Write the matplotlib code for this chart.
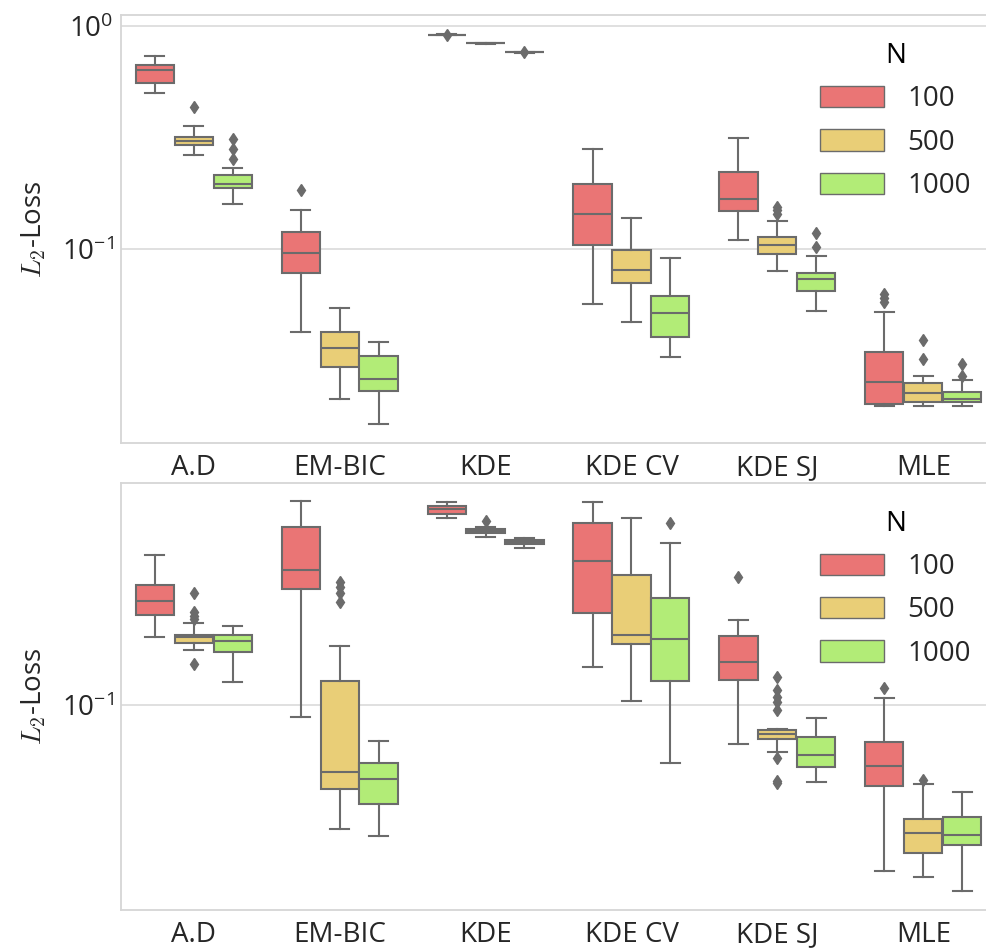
import numpy as np
import matplotlib
matplotlib.use("Agg")
import matplotlib.pyplot as plt
from matplotlib.patches import Patch

plt.rcParams['font.family'] = ['Open Sans', 'DejaVu Sans']
plt.rcParams['mathtext.fontset'] = 'cm'

categories = ["A.D", "EM-BIC", "KDE", "KDE CV", "KDE SJ", "MLE"]
hue_levels = ["100", "500", "1000"]
colors = ["#EA7575", "#E9CE77", "#B2EC77"]

# Each entry: (whislo, q1, med, q3, whishi, fliers) per category for N=100, 500, 1000
top_stats = {
    "A.D": [(0.501, 0.557, 0.631, 0.671, 0.729, []),
            (0.2635, 0.293, 0.306, 0.317, 0.357, [0.432]),
            (0.1597, 0.1875, 0.1949, 0.2138, 0.2314, [0.253, 0.2795, 0.312])],
    "EM-BIC": [(0.0425, 0.0781, 0.0964, 0.1192, 0.150, [0.1844]),
               (0.0212, 0.0296, 0.0362, 0.0424, 0.0543, []),
               (0.01654, 0.0232, 0.0261, 0.0332, 0.0382, [])],
    "KDE": [(0.907, 0.910, 0.911, 0.912, 0.915, [0.911]),
            (0.833, 0.835, 0.836, 0.837, 0.839, []),
            (0.759, 0.761, 0.762, 0.763, 0.765, [0.762])],
    "KDE CV": [(0.0570, 0.1046, 0.1434, 0.1963, 0.2795, []),
               (0.0471, 0.0702, 0.0809, 0.0994, 0.1382, []),
               (0.0328, 0.0405, 0.0519, 0.0619, 0.0909, [])],
    "KDE SJ": [(0.1097, 0.1486, 0.168, 0.2205, 0.314, []),
               (0.0797, 0.0954, 0.1046, 0.1131, 0.1334, [0.143, 0.149, 0.1537]),
               (0.053, 0.0647, 0.0737, 0.0778, 0.0928, [0.1021, 0.1184])],
    "MLE": [(0.0199, 0.0202, 0.0254, 0.0345, 0.0522, [0.0577, 0.0602, 0.0627]),
            (0.0199, 0.0207, 0.0227, 0.0251, 0.0269, [0.0322, 0.039]),
            (0.0199, 0.0206, 0.0214, 0.0228, 0.0258, [0.0269, 0.0307])],
}

bottom_stats = {
    "A.D": [(0.2003, 0.2521, 0.2933, 0.3458, 0.4678, []),
            (0.1758, 0.1889, 0.2015, 0.2065, 0.2329, [0.1521, 0.2419, 0.2495, 0.2608, 0.3171]),
            (0.1268, 0.1716, 0.1928, 0.2045, 0.2266, [])],
    "EM-BIC": [(0.0881, 0.3306, 0.4037, 0.626, 0.822, []),
               (0.0277, 0.0418, 0.0501, 0.1277, 0.1837, [0.2891, 0.3171, 0.3375, 0.3553]),
               (0.0258, 0.0358, 0.0464, 0.055, 0.0688, [])],
    "KDE": [(0.690, 0.716, 0.7516, 0.781, 0.810, []),
            (0.565, 0.591, 0.601, 0.6115, 0.626, [0.6645]),
            (0.503, 0.5256, 0.5367, 0.5462, 0.5576, [])],
    "KDE CV": [(0.147, 0.2581, 0.4430, 0.6507, 0.810, []),
               (0.1042, 0.1869, 0.2065, 0.382, 0.6873, []),
               (0.055, 0.1281, 0.1968, 0.3003, 0.5332, [0.6528])],
    "KDE SJ": [(0.0665, 0.1294, 0.1548, 0.2024, 0.2402, [0.3728]),
               (0.0612, 0.070, 0.0737, 0.0773, 0.0778,
                [0.0445, 0.0457, 0.0576, 0.0947, 0.1031, 0.1086, 0.1164, 0.1334]),
               (0.0452, 0.0528, 0.0594, 0.0719, 0.0869, [])],
    "MLE": [(0.018, 0.0433, 0.0533, 0.0679, 0.1072, [0.1184]),
            (0.0169, 0.0217, 0.0267, 0.0307, 0.0442, [0.046]),
            (0.0147, 0.0235, 0.0261, 0.0314, 0.0407, [])],
}

EDGE = "#6b6b6b"
W = 0.8 / len(hue_levels)

fig = plt.figure(figsize=(9.87, 9.49), dpi=100)
H = 949.0
Wd = 987.0
left = 120.7 / Wd
right = 996.3 / Wd
ax_top = fig.add_axes([left, (H - 443) / H, right - left, (443 - 15) / H])
ax_bot = fig.add_axes([left, (H - 910) / H, right - left, (910 - 482.7) / H])


def draw(ax, stats, ytop=None):
    for i, cat in enumerate(categories):
        for j, lvl in enumerate(hue_levels):
            lo, q1, med, q3, hi, fl = stats[cat][j]
            pos = i + (j - 1) * W
            st = [dict(whislo=lo, q1=q1, med=med, q3=q3, whishi=hi, fliers=fl)]
            ax.bxp(st, positions=[pos], widths=W * 0.98, capwidths=W * 0.5,
                   patch_artist=True, manage_ticks=False,
                   boxprops=dict(facecolor=colors[j], edgecolor=EDGE, linewidth=1.5),
                   medianprops=dict(color=EDGE, linewidth=1.5),
                   whiskerprops=dict(color=EDGE, linewidth=1.5),
                   capprops=dict(color=EDGE, linewidth=1.5),
                   flierprops=dict(marker='d', markerfacecolor=EDGE, markeredgecolor=EDGE,
                                   markersize=6.5, linestyle='none'))
    ax.set_yscale('log')
    if ytop is not None:
        ax.set_ylim(top=ytop)
    ax.set_xlim(-0.5, len(categories) - 0.5)
    ax.set_xticks(range(len(categories)))
    ax.set_xticklabels(categories, fontsize=20, color='#262626')
    ax.tick_params(axis='x', length=0, pad=8)
    ax.tick_params(axis='y', length=0, pad=5, labelsize=20, labelcolor='#262626')
    ax.yaxis.set_minor_locator(matplotlib.ticker.NullLocator())
    ax.grid(axis='y', color='#dddddd', linewidth=1.3)
    ax.grid(axis='x', visible=False)
    ax.set_axisbelow(True)
    for s in ax.spines.values():
        s.set_color('#d6d6d6')
        s.set_linewidth(1.3)
    ax.set_ylabel(r'$L_2$-Loss', fontsize=20, color='#262626', labelpad=10)
    handles = [Patch(facecolor=colors[k], edgecolor=EDGE, linewidth=1.0, label=hue_levels[k])
               for k in range(len(hue_levels))]
    leg = ax.legend(handles=handles, title='N', loc='upper left',
                    bbox_to_anchor=(0.770, 0.995), frameon=False, fontsize=20,
                    title_fontsize=20, handlelength=2.3, handleheight=0.8,
                    labelspacing=0.55, handletextpad=0.85)
    for t in leg.get_texts():
        t.set_color('#262626')


draw(ax_top, top_stats)
draw(ax_bot, bottom_stats, ytop=0.99)

fig.savefig("out.png", dpi=100)
